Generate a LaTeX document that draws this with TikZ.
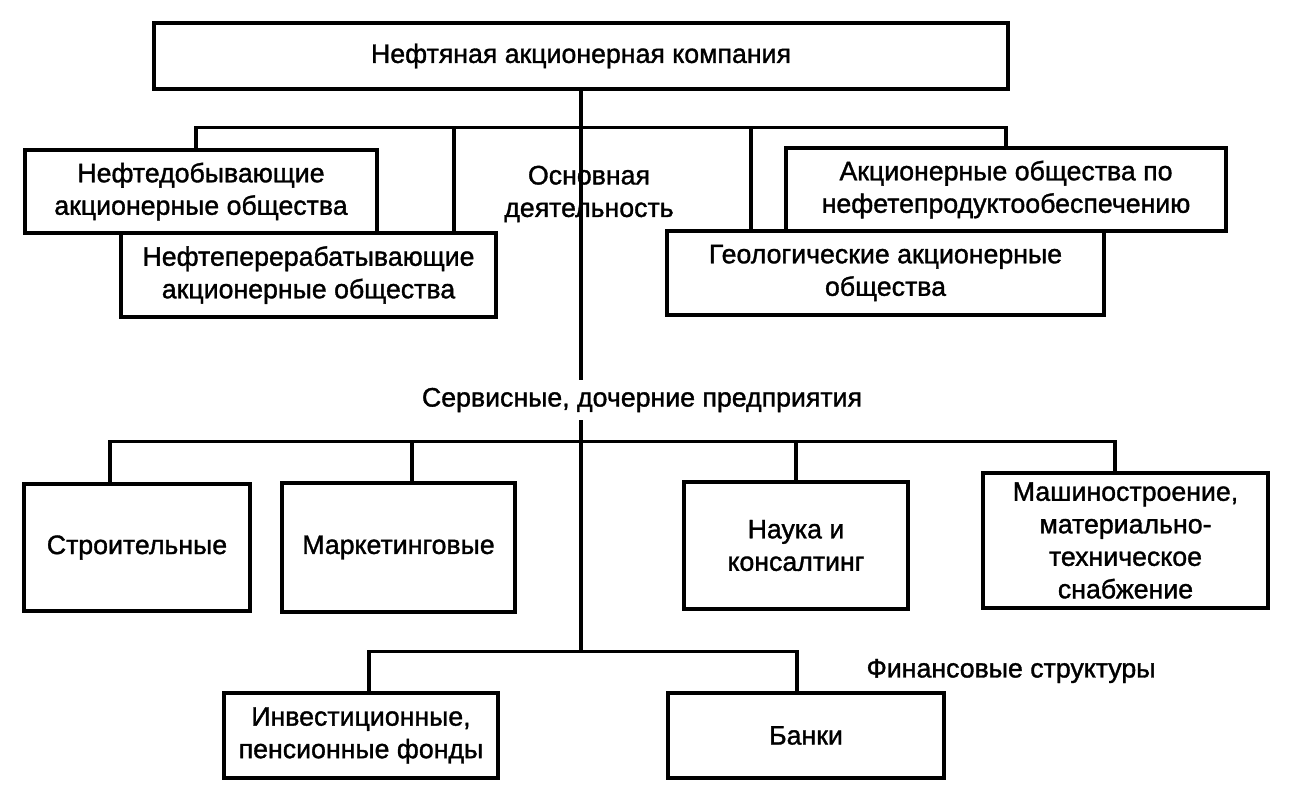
\documentclass[tikz,border=0pt]{standalone}
\usepackage{fontspec}
\setmainfont{Liberation Sans}[BoldFont=Liberation Sans, BoldFeatures={FakeBold=1.3}]
\usepackage{tikz}
\tikzstyle{unit} = [rectangle, text centered, align=center, draw=black, line width=1.8pt]
\tikzstyle{caption} = [text centered, align=center]
\tikzstyle{conn} = [line width=1.8pt]

\begin{document}
\begin{tikzpicture}[node distance=2cm, font=\fontsize{15.2}{18.5}\selectfont\bfseries]
\useasboundingbox (-11.62,-14.96) rectangle (14.54,1.12);
\node (company) [unit, minimum width=17.08cm, minimum height=1.32cm] {Нефтяная акционерная компания};
\node (oilprod) [unit, below of=company, xshift=-7.6cm, yshift=-0.71cm, minimum width=7.04cm, minimum height=1.66cm] {Нефтедобывающие\\акционерные общества};
\node (refine) [unit, below of=oilprod, xshift=2.15cm, yshift=0.33cm, minimum width=7.5cm, minimum height=1.68cm] {Нефтеперерабатывающие\\акционерные общества};
\node (core) [caption, below of=company, xshift=0.16cm, yshift=-0.76cm] {Основная\\деятельность};
\node (supply) [unit, below of=company, xshift=8.5cm, yshift=-0.67cm, minimum width=8.8cm, minimum height=1.66cm] {Акционерные общества по\\нефетепродуктообеспечению};
\node (geo) [unit, below of=supply, xshift=-2.41cm, yshift=0.33cm, minimum width=8.74cm, minimum height=1.68cm] {Геологические акционерные\\общества};
\node (service) [caption, below of=core, xshift=1.06cm, yshift=-2.12cm, minimum height=0.8cm] {Сервисные, дочерние предприятия};
\node (build) [unit, below of=service, xshift=-10.1cm, yshift=-0.95cm, minimum width=4.52cm, minimum height=2.54cm] {Строительные};
\node (market) [unit, right of=build, xshift=3.23cm, minimum width=4.66cm, minimum height=2.58cm] {Маркетинговые};
\node (science) [unit, right of=market, xshift=5.95cm, yshift=0.04cm, minimum width=4.48cm, minimum height=2.54cm] {Наука и\\консалтинг};
\node (machine) [unit, right of=science, xshift=4.59cm, yshift=0.1cm, minimum width=5.7cm, minimum height=2.7cm] {Машиностроение,\\материально-\\техническое\\снабжение};
\node (invest) [unit, below of=build, xshift=4.48cm, yshift=-1.76cm, minimum width=5.48cm, minimum height=1.7cm] {Инвестиционные,\\пенсионные фонды};
\node (banks) [unit, right of=invest, xshift=6.9cm, minimum width=5.52cm, minimum height=1.7cm] {Банки};
\node (finance) [caption, above of=banks, xshift=4.1cm, yshift=-0.71cm] {Финансовые структуры};
\coordinate (bar1) at ([yshift=-0.74cm]company.south);
\coordinate (bar2) at ([yshift=-7.02cm]company.south);
\coordinate (bar3) at ([yshift=-11.22cm]company.south);
\draw [conn] (company.south) -- (company.south |- service.north);
\draw [conn] (company.south |- service.south) -- (bar3);
\draw [conn] ([xshift=-0.1cm]oilprod.north) |- (bar1) -| (supply.north);
\draw [conn] ([xshift=2.91cm]refine.north) |- (bar1);
\draw [conn] ([xshift=-2.69cm]geo.north) |- (bar1);
\draw [conn] ([xshift=-0.54cm]build.north) |- (bar2) -| ([xshift=-0.21cm]machine.north);
\draw [conn] ([xshift=0.27cm]market.north) |- (bar2);
\draw [conn] (science.north) |- (bar2);
\draw [conn] ([xshift=0.16cm]invest.north) |- (bar3) -| ([xshift=-0.18cm]banks.north);
\end{tikzpicture}
\end{document}
